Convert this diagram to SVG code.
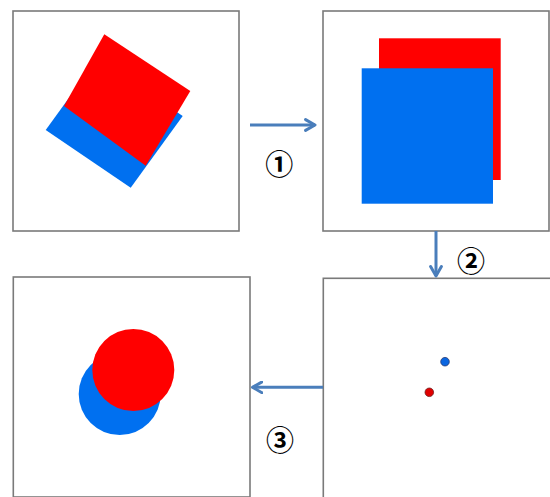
<svg xmlns="http://www.w3.org/2000/svg" width="550" height="497" viewBox="0 0 550 497">
<style>
.panel{fill:#fff;stroke:#7a7a7a;stroke-width:1.6}
.red{fill:#ff0000}
.blue{fill:#0070f0}
.arrow{stroke:#4a7ebb;stroke-width:3;fill:none;marker-end:url(#head)}
.num{font-family:"Noto Sans CJK SC","DejaVu Sans",sans-serif;font-size:28px;font-weight:bold;fill:#000;text-anchor:middle;dominant-baseline:central}
</style>
<defs>
<marker id="head" viewBox="0 0 10 10" refX="8" refY="5" markerWidth="4.5" markerHeight="4.5" orient="auto" markerUnits="strokeWidth">
<path d="M1,1 L8,5 L1,9" fill="none" stroke="#4a7ebb" stroke-width="2.2" stroke-linecap="round" stroke-linejoin="round"/>
</marker>
</defs>
<rect width="550" height="497" fill="#fff"/>
<g id="panel1">
<rect class="panel" x="13" y="11" width="226" height="220"/>
<polygon class="blue" points="45.7,130 97.7,58.3 182.7,116 130.7,187.7"/>
<polygon class="red" points="104.3,34.3 190.3,91 145.7,165.7 64,106"/>
</g>
<g id="panel2">
<rect class="panel" x="323" y="11" width="226" height="220"/>
<rect class="red" x="379" y="38.3" width="121.7" height="141.7"/>
<rect class="blue" x="361.7" y="68.3" width="131.3" height="135.4"/>
</g>
<g id="panel3">
<rect class="panel" x="13.3" y="277" width="236.7" height="220"/>
<circle class="blue" cx="119.7" cy="394" r="41"/>
<circle class="red" cx="133.3" cy="370" r="41"/>
</g>
<g id="panel4">
<rect class="panel" x="323.3" y="278.3" width="240" height="230"/>
<circle cx="445" cy="361.7" r="4.3" fill="#0a66e0" stroke="#2a3a70" stroke-width="0.8"/>
<circle cx="429.3" cy="392.3" r="4.3" fill="#e00000" stroke="#702020" stroke-width="0.8"/>
</g>
<g id="connectors">
<line class="arrow" x1="250" y1="125" x2="315" y2="125"/>
<line class="arrow" x1="436" y1="231" x2="436" y2="276"/>
<line class="arrow" x1="323" y1="387.3" x2="252.5" y2="387.3"/>
</g>
<g id="labels">
<text class="num" x="279.3" y="162.7">①</text>
<text class="num" x="471" y="260">②</text>
<text class="num" x="280" y="439">③</text>
</g>
</svg>
